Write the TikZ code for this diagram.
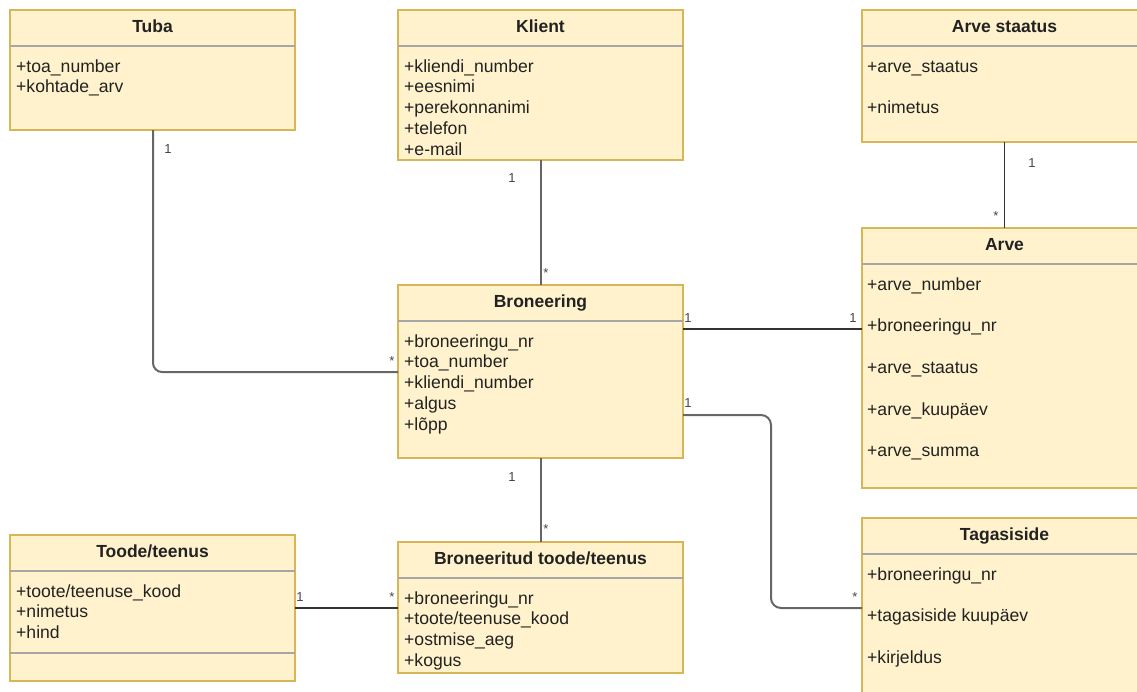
\documentclass[tikz,border=0pt]{standalone}
\usepackage{fontspec}
\setmainfont{Liberation Sans}
\usetikzlibrary{calc}
\definecolor{boxfill}{HTML}{FFF2CC}
\definecolor{boxline}{HTML}{D6B656}
\definecolor{divline}{HTML}{A6A6A6}
\definecolor{txt}{HTML}{222222}
\definecolor{lbl}{HTML}{444444}
\definecolor{lineA}{HTML}{666666}
\definecolor{lineB}{HTML}{333333}
\tikzset{
  classbox/.style={draw=boxline, fill=boxfill, line width=1.3pt, anchor=north west,
    minimum width=285pt, inner sep=0pt, outer sep=0pt},
  divider/.style={draw=divline, line width=1.1pt},
  ctitle/.style={anchor=base, font=\fontsize{17.5}{20}\selectfont\bfseries, text=txt, inner sep=0pt},
  attr/.style={anchor=base west, font=\fontsize{17.6}{20}\selectfont, text=txt, inner sep=0pt},
  connA/.style={draw=lineA, line width=2pt},
  connB/.style={draw=lineB, line width=1.5pt},
  mult/.style={font=\fontsize{13}{15}\selectfont, text=lbl, inner sep=0pt},
}
% #1 name, #2 x, #3 y, #4 height, #5 title, #6 line spacing, #7 lines, #8 text offset
\newcommand{\umlclass}[8]{%
  \node[classbox, minimum height=#4] (#1) at (#2,#3) {};
  \node[ctitle] (#1-t) at ($(#1.north)+(0,22)$) {#5};
  \draw[divider] ($(#1.north west)+(0,36)$) -- ($(#1.north east)+(0,36)$);
  \foreach \t [count=\i from 0] in {#7} {
    \node[attr] (#1-\i) at ($(#1.north west)+(#8,62+#6*\i)$) {\t};
  }
}
\begin{document}
\begin{tikzpicture}[x=1pt,y=-1pt]
\useasboundingbox (0,0) rectangle (1137,691);
\clip (0,0) rectangle (1137,691);

\umlclass{tuba}{10}{10}{120}{Tuba}{20.75}{+toa\_number,+kohtade\_arv}{6}
\umlclass{klient}{398}{10}{150}{Klient}{20.75}{+kliendi\_number,+eesnimi,+perekonnanimi,+telefon,+e-mail}{6}
\umlclass{astaatus}{862}{10}{132}{Arve staatus}{41}{+arve\_staatus,+nimetus}{5}
\umlclass{arve}{862}{228}{260}{Arve}{41.67}{+arve\_number,+broneeringu\_nr,+arve\_staatus,+arve\_kuupäev,+arve\_summa}{5}
\umlclass{bron}{398}{285}{173}{Broneering}{20.75}{+broneeringu\_nr,+toa\_number,+kliendi\_number,+algus,+lõpp}{6}
\umlclass{toode}{10}{535}{146}{Toode/teenus}{20.9}{+toote/teenuse\_kood,+nimetus,+hind}{6}
\draw[divider] ($(toode.north west)+(0,118)$) -- ($(toode.north east)+(0,118)$);
\umlclass{bt}{398}{542}{131}{Broneeritud toode/teenus}{20.9}{+broneeringu\_nr,+toote/teenuse\_kood,+ostmise\_aeg,+kogus}{6}
\umlclass{tag}{862}{518}{200}{Tagasiside}{41.67}{+broneeringu\_nr,+tagasiside kuupäev,+kirjeldus}{5}

% connectors
\draw[connA, rounded corners=9pt] ($(tuba.south west)+(143,0)$) |- ($(bron.north west)+(0,87)$);
\draw[connA] (klient.south) -- (bron.north);
\draw[connB] (astaatus.south) -- (arve.north);
\draw[connB] ($(bron.north east)+(0,44)$) -- ($(arve.north west)+(0,101)$);
\draw[connA, rounded corners=10pt] ($(bron.north east)+(0,130)$) -- ($(bron.north east)+(88,130)$) |- ($(tag.north west)+(0,90)$);
\draw[connA] (bron.south) -- (bt.north);
\draw[connB] ($(toode.north east)+(0,73)$) -- ($(bt.north west)+(0,66)$);

% multiplicities
\node[mult] (m1) at (168,149) {1};
\node[mult] (m2) at (392,361) {*};
\node[mult] (m3) at (512,178) {1};
\node[mult] (m4) at (546,273) {*};
\node[mult] (m5) at (1032,163) {1};
\node[mult] (m6) at (996,216) {*};
\node[mult] (m7) at (688,318) {1};
\node[mult] (m8) at (853,318) {1};
\node[mult] (m9) at (688,403) {1};
\node[mult] (m10) at (855,597) {*};
\node[mult] (m11) at (512,477) {1};
\node[mult] (m12) at (546,529) {*};
\node[mult] (m13) at (300,597) {1};
\node[mult] (m14) at (392,597) {*};
\end{tikzpicture}
\end{document}
